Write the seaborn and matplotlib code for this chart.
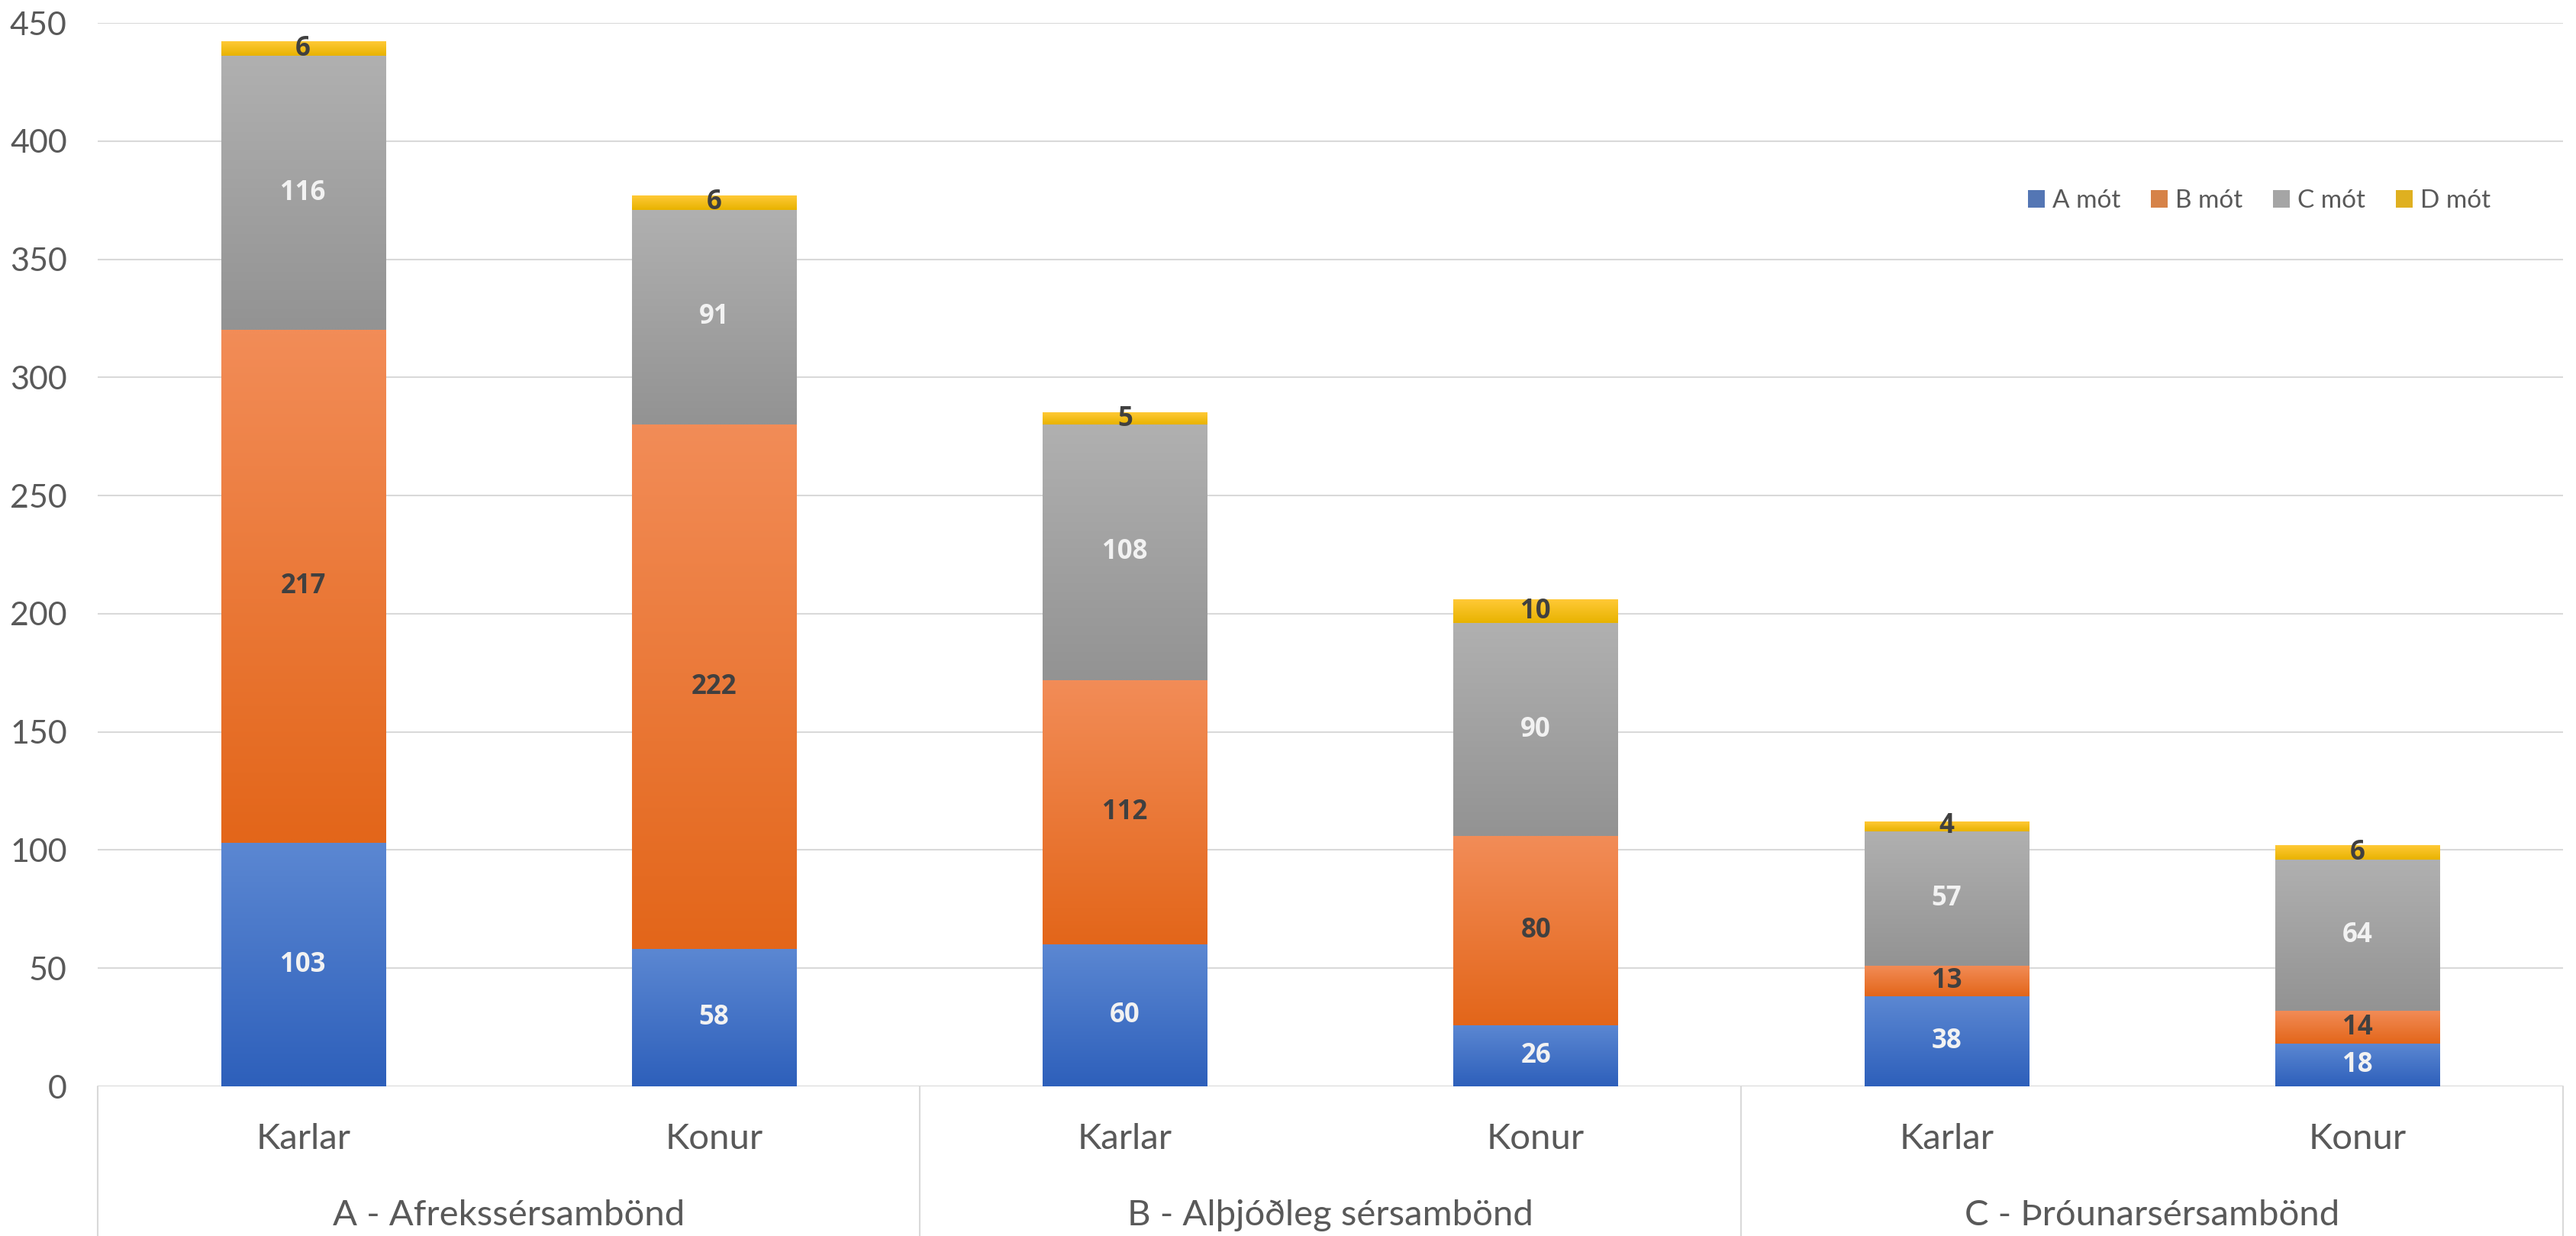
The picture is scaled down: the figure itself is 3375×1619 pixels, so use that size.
"""
Stacked bars of mót per gender and sérsamband category.
"""
import numpy as np
import pandas as pd
import seaborn as sns
import matplotlib.pyplot as plt
from matplotlib.lines import Line2D
from matplotlib.colors import to_rgb

groups = ['A - Afrekssérsambönd', 'B - Alþjóðleg sérsambönd', 'C - Þróunarsérsambönd']
genders = ['Karlar', 'Konur']
series = ['A mót', 'B mót', 'C mót', 'D mót']

a_mot = [103, 58, 60, 26, 38, 18]
b_mot = [217, 222, 112, 80, 13, 14]
c_mot = [116, 91, 108, 90, 57, 64]
d_mot = [6, 6, 5, 10, 4, 6]

# gradient (top, bottom), legend swatch and label colour per series
grad = {
    'A mót': ('#5b87d2', '#2e60bb'),
    'B mót': ('#f28c57', '#e3661a'),
    'C mót': ('#b0b0b0', '#939393'),
    'D mót': ('#ffc936', '#e8b300'),
}
swatch = {'A mót': '#4472c4', 'B mót': '#ed7d31', 'C mót': '#a5a5a5', 'D mót': '#ffc000'}
label_col = {'A mót': '#f2f2f2', 'B mót': '#404040', 'C mót': '#f2f2f2', 'D mót': '#404040'}
txt = '#595959'


def vis():
    cats = [f'{g[0]} {s}' for g in groups for s in genders]
    df = pd.DataFrame({'cat': cats, 'A mót': a_mot, 'B mót': b_mot,
                       'C mót': c_mot, 'D mót': d_mot})

    sns.set_style('white')
    plt.rcParams['font.family'] = ['Lato', 'DejaVu Sans']

    fig = plt.figure(figsize=(33.75, 16.19), dpi=100)
    ax = fig.add_axes([128 / 3375, 196 / 1619, (3358 - 128) / 3375, (1423 - 30) / 1619])

    bottom = np.zeros(len(df))
    layers = []
    for s in series:
        n0 = len(ax.patches)
        sns.barplot(data=df, x='cat', y=s, order=cats, bottom=bottom.copy(),
                    color=swatch[s], width=0.4, errorbar=None, ax=ax,
                    linewidth=0, label=s)
        layers.append((s, ax.patches[n0:]))
        bottom += df[s].values

    # gradient fill + value labels
    for s, patches in layers:
        top, bot = to_rgb(grad[s][0]), to_rgb(grad[s][1])
        img = np.linspace(top, bot, 64).reshape(64, 1, 3)
        for p in patches:
            x, y, w, h = p.get_x(), p.get_y(), p.get_width(), p.get_height()
            ax.imshow(img, extent=[x, x + w, y, y + h], aspect='auto',
                      zorder=p.get_zorder() + 0.1, interpolation='bilinear')
            ax.text(x + w / 2, y + h / 2, f'{int(round(h))}', ha='center', va='center',
                    fontsize=25, fontweight='bold', family=['Open Sans', 'DejaVu Sans'],
                    color=label_col[s], zorder=5)

    ax.set_xlim(-0.5, 5.5)
    ax.set_ylim(0, 450)
    ax.set_yticks(range(0, 451, 50))
    ax.tick_params(axis='y', length=0, pad=29, labelsize=31, labelcolor=txt)
    ax.set_xticks([])
    ax.set_xlabel('')
    ax.set_ylabel('')
    ax.grid(axis='y', color='#d9d9d9', linewidth=1.5, zorder=0)
    ax.set_axisbelow(True)
    for sp in ax.spines.values():
        sp.set_visible(False)
    ax.axhline(0, color='#d9d9d9', linewidth=1.5, zorder=1)

    # multi-level category axis
    tr = ax.get_xaxis_transform()
    for i, c in enumerate(cats):
        ax.text(i, -0.0495, c.split(' ')[1], transform=tr, ha='center', va='center',
                fontsize=34, color=txt)
    for j, g in enumerate(groups):
        ax.text(2 * j + 0.5, -0.121, g, transform=tr, ha='center', va='center',
                fontsize=34, color=txt)
    for xs in [-0.5, 1.5, 3.5, 5.5]:
        ax.add_line(Line2D([xs, xs], [0, -0.15], transform=tr, color='#d9d9d9',
                           linewidth=1.5, clip_on=False))

    handles, labels = ax.get_legend_handles_labels()
    if ax.get_legend() is not None:
        ax.get_legend().remove()
    fig.legend(handles[:4], labels[:4], loc='center', bbox_to_anchor=(2960 / 3375, 0.8376),
               ncol=4, frameon=False, fontsize=24, labelcolor=txt, handlelength=0.65,
               handleheight=0.7, handletextpad=0.3, columnspacing=1.2)

    fig.savefig('out.png', dpi=100)


if __name__ == '__main__':
    vis()
